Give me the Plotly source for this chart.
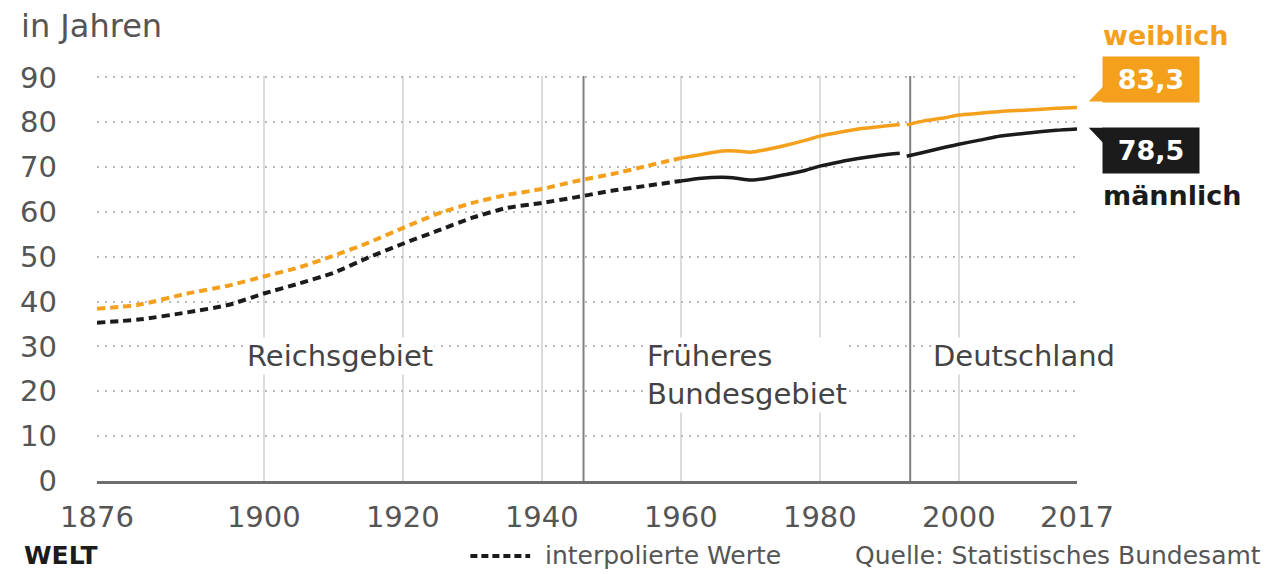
"""Lebenserwartung bei Geburt in Deutschland, 1876-2017 (WELT-Grafik)."""
import plotly.graph_objects as go

# Jahre mit interpolierten Werten (gestrichelt)
years_interp = [1876, 1882, 1889, 1895, 1900, 1905, 1910, 1915, 1920, 1925,
                1930, 1935, 1940, 1945, 1950, 1955, 1960]
w_interp = [38.4, 39.3, 41.8, 43.6, 45.6, 47.6, 50.2, 53.1, 56.4, 59.6,
            62.0, 63.8, 65.1, 66.9, 68.4, 70.2, 72.0]
m_interp = [35.3, 36.0, 37.6, 39.3, 41.8, 44.0, 46.4, 49.8, 52.9, 55.8,
            58.7, 60.9, 62.0, 63.3, 64.7, 65.8, 66.9]

# Früheres Bundesgebiet
years_brd = [1960, 1963, 1966, 1968, 1970, 1972, 1975, 1978, 1980, 1983,
             1986, 1989, 1991.5]
w_brd = [72.0, 72.8, 73.6, 73.6, 73.3, 73.8, 74.8, 76.0, 76.9, 77.8,
         78.6, 79.1, 79.5]
m_brd = [66.9, 67.5, 67.7, 67.5, 67.1, 67.4, 68.3, 69.3, 70.2, 71.2,
         72.0, 72.7, 73.1]

# Deutschland
years_de = [1992.5, 1995, 1998, 2000, 2003, 2006, 2010, 2014, 2017]
w_de = [79.4, 80.3, 81.0, 81.6, 82.0, 82.4, 82.7, 83.1, 83.3]
m_de = [72.4, 73.3, 74.4, 75.1, 76.0, 76.9, 77.6, 78.2, 78.5]

x_ticks = [1876, 1900, 1920, 1940, 1960, 1980, 2000, 2017]
y_ticks = [0, 10, 20, 30, 40, 50, 60, 70, 80, 90]
borders = [1946, 1993]
regions = ["Reichsgebiet", "Früheres<br>Bundesgebiet", "Deutschland"]
region_x = [1910.9, 1954.9, 1996]
region_y = [27.8, 23.7, 27.8]

ORANGE = "#F4A01C"
BLACK = "#1b1b1b"
GREY = "#555555"
FONT = "DejaVu Sans"

fig = go.Figure()

years_obs = years_brd + [None] + years_de
for name, interp, brd, de, col in [("weiblich", w_interp, w_brd, w_de, ORANGE),
                                   ("männlich", m_interp, m_brd, m_de, BLACK)]:
    fig.add_trace(go.Scatter(x=years_interp, y=interp, mode="lines",
                             line=dict(color=col, width=4, dash="8px,5px",
                                       shape="spline", smoothing=0.6),
                             showlegend=False, hoverinfo="skip"))
    fig.add_trace(go.Scatter(x=years_obs, y=brd + [None] + de, mode="lines",
                             line=dict(color=col, width=3.5, shape="spline",
                                       smoothing=0.6),
                             connectgaps=False, showlegend=False, name=name))

for b in borders:
    fig.add_shape(type="line", x0=b, x1=b, y0=0, y1=1, xref="x", yref="paper",
                  line=dict(color="#808080", width=2), layer="below")

for i, (txt, rx, ry) in enumerate(zip(regions, region_x, region_y)):
    fig.add_annotation(x=rx, y=ry, xref="x", yref="y", text=txt,
                       showarrow=False, xanchor="center" if i == 0 else "left",
                       yanchor="middle", align="left", bgcolor="white",
                       font=dict(family=FONT, size=29, color="#444"))

# Endwert-Etiketten rechts
fig.add_annotation(x=1.0253, y=0.991, xref="paper", yref="paper", text="<b>83,3</b>",
                   showarrow=False, xanchor="left", yanchor="middle",
                   width=96, height=45, borderpad=0, bgcolor=ORANGE,
                   font=dict(family=FONT, size=27, color="white"))
fig.add_annotation(x=1.0253, y=0.817, xref="paper", yref="paper", text="<b>78,5</b>",
                   showarrow=False, xanchor="left", yanchor="middle",
                   width=96, height=45, borderpad=0, bgcolor=BLACK,
                   font=dict(family=FONT, size=27, color="white"))
fig.add_shape(type="path", xref="paper", yref="paper", line_width=0,
              fillcolor=ORANGE, path="M 1.012 0.937 L 1.027 0.975 L 1.027 0.937 Z")
fig.add_shape(type="path", xref="paper", yref="paper", line_width=0,
              fillcolor=BLACK, path="M 1.012 0.872 L 1.027 0.872 L 1.027 0.834 Z")
fig.add_annotation(x=1.0243, y=1.101, xref="paper", yref="paper", text="<b>weiblich</b>",
                   showarrow=False, xanchor="left", yanchor="middle",
                   font=dict(family=FONT, size=27, color=ORANGE))
fig.add_annotation(x=1.0243, y=0.704, xref="paper", yref="paper", text="<b>männlich</b>",
                   showarrow=False, xanchor="left", yanchor="middle",
                   font=dict(family=FONT, size=27, color=BLACK))

fig.add_annotation(x=-0.080, y=1.123, xref="paper", yref="paper", text="in Jahren",
                   showarrow=False, xanchor="left", yanchor="middle",
                   font=dict(family=FONT, size=32, color=GREY))

# Fußzeile
fig.add_annotation(x=-0.077, y=-0.183, xref="paper", yref="paper", text="<b>WELT</b>",
                   showarrow=False, xanchor="left", yanchor="middle",
                   font=dict(family=FONT, size=25, color=BLACK))
fig.add_shape(type="line", xref="paper", yref="paper", x0=0.381, x1=0.442,
              y0=-0.185, y1=-0.185, line=dict(color=BLACK, width=4, dash="7px,4px"))
fig.add_annotation(x=0.455, y=-0.183, xref="paper", yref="paper",
                   text="interpolierte Werte", showarrow=False, xanchor="left",
                   yanchor="middle", font=dict(family=FONT, size=25, color=GREY))
fig.add_annotation(x=1.19, y=-0.183, xref="paper", yref="paper",
                   text="Quelle: Statistisches Bundesamt", showarrow=False,
                   xanchor="right", yanchor="middle",
                   font=dict(family=FONT, size=25, color=GREY))

# Seite hat 8px Rand im Browser -> Figur um 8px kleiner
fig.update_layout(
    width=1267, height=566,
    margin=dict(l=80, r=198, t=68, b=93),
    plot_bgcolor="white", paper_bgcolor="white",
    font=dict(family=FONT, color=GREY),
    xaxis=dict(range=[1876, 2017], tickvals=x_ticks, showgrid=True,
               gridcolor="#dcdcdc", gridwidth=1.5, zeroline=False,
               showline=True, linecolor="#6e6e6e", linewidth=2.5,
               ticks="", ticklabelstandoff=8,
               tickfont=dict(family=FONT, size=29, color=GREY)),
    yaxis=dict(range=[0, 90.3], tickvals=y_ticks, showgrid=True,
               gridcolor="#b8b8b8", gridwidth=2, griddash="2px,6px",
               zeroline=False, showline=False, ticks="",
               ticklabelstandoff=39,
               tickfont=dict(family=FONT, size=29, color=GREY)),
)

fig.write_html("out.html")
